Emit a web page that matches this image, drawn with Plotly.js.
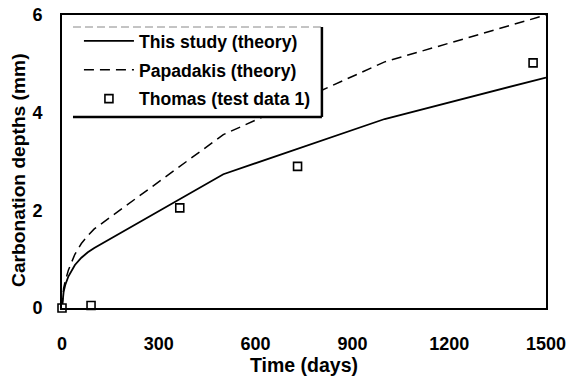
<!DOCTYPE html>
<html>
<head>
<meta charset="utf-8">
<script src="https://cdn.plot.ly/plotly-3.0.1.min.js"></script>
<style>
html,body{margin:0;padding:0;background:#fff;}
#chart{width:571px;height:379px;}
</style>
</head>
<body>
<div id="chart"></div>
<script>
// Data
const theoryDays = [0, 2, 5, 10, 20, 40, 60, 80, 100, 500, 1000, 1500];
const thisStudyDepth = [0, 0.2, 0.33, 0.47, 0.65, 0.88, 1.03, 1.14, 1.23, 2.74, 3.87, 4.72];
const papadakisDepth = [0, 0.22, 0.4, 0.55, 0.78, 1.1, 1.32, 1.48, 1.62, 3.55, 5.04, 6.0];
const testDays = [0, 90, 365, 730, 1460];
const testDepth = [0, 0.05, 2.05, 2.9, 5.02];
const seriesNames = ['This study (theory)', 'Papadakis (theory)', 'Thomas (test data 1)'];
const xTicks = [0, 300, 600, 900, 1200, 1500];
const yTicks = [0, 2, 4, 6];

const FONT = 'Liberation Sans, Arial, sans-serif';

const traces = [
  {
    x: theoryDays, y: thisStudyDepth, name: seriesNames[0], mode: 'lines',
    line: {color: '#000', width: 1.8}, legendgroup: 'a', cliponaxis: false
  },
  {
    x: theoryDays, y: papadakisDepth, name: seriesNames[1], mode: 'lines',
    line: {color: '#000', width: 1.5, dash: '10px,6px'}, legendgroup: 'b', cliponaxis: false
  },
  {
    x: testDays, y: testDepth, name: seriesNames[2], mode: 'markers',
    marker: {symbol: 'square', size: 8, color: '#fff', line: {color: '#000', width: 1.6}},
    legendgroup: 'c', cliponaxis: false
  }
];

const layout = {
  width: 571, height: 379,
  margin: {l: 62, r: 25, t: 15, b: 71},
  paper_bgcolor: '#fff', plot_bgcolor: '#fff',
  font: {family: FONT, size: 18, color: '#000', weight: 'bold'},
  showlegend: true,
  legend: {
    x: 0.035, y: 0.973, xanchor: 'left', yanchor: 'top',
    bgcolor: 'rgba(0,0,0,0)', borderwidth: 0,
    font: {family: FONT, size: 17.6, color: '#000', weight: 'bold'},
    traceorder: 'grouped', tracegroupgap: 3, itemwidth: 50
  },
  xaxis: {
    range: [0, 1500], tickvals: xTicks, ticktext: xTicks.map(String),
    showgrid: false, zeroline: false, showline: true, mirror: true,
    linecolor: '#000', linewidth: 2, ticks: '', ticklabelstandoff: 18,
    tickfont: {family: FONT, size: 18, color: '#000', weight: 'bold'}
  },
  yaxis: {
    range: [0, 6], tickvals: yTicks, ticktext: yTicks.map(String),
    showgrid: false, zeroline: false, showline: true, mirror: true,
    linecolor: '#000', linewidth: 2, ticks: '', ticklabelstandoff: 14,
    tickfont: {family: FONT, size: 18, color: '#000', weight: 'bold'}
  },
  shapes: [
    {type: 'rect', xref: 'paper', yref: 'paper', x0: 0.0227, x1: 0.537, y0: 0.652, y1: 0.959,
     fillcolor: '#fff', line: {width: 0}, layer: 'above'},
    {type: 'line', xref: 'paper', yref: 'paper', x0: 0.0227, x1: 0.537, y0: 0.959, y1: 0.959,
     line: {color: '#888', width: 1, dash: '8px,4px'}, layer: 'above'},
    {type: 'line', xref: 'paper', yref: 'paper', x0: 0.0227, x1: 0.537, y0: 0.652, y1: 0.652,
     line: {color: '#000', width: 2.5}, layer: 'above'},
    {type: 'line', xref: 'paper', yref: 'paper', x0: 0.537, x1: 0.537, y0: 0.652, y1: 0.959,
     line: {color: '#000', width: 2.5}, layer: 'above'}
  ],
  annotations: [
    {text: 'Time (days)', xref: 'paper', yref: 'paper', x: 0.5, y: -0.195,
     xanchor: 'center', yanchor: 'middle', showarrow: false,
     font: {family: FONT, size: 19.5, color: '#000', weight: 'bold'}},
    {text: 'Carbonation depths (mm)', xref: 'paper', yref: 'paper', x: -0.089, y: 0.471,
     xanchor: 'center', yanchor: 'middle', textangle: -90, showarrow: false,
     font: {family: FONT, size: 19.2, color: '#000', weight: 'bold'}}
  ]
};

Plotly.newPlot('chart', traces, layout, {displayModeBar: false, staticPlot: true});
</script>
</body>
</html>
